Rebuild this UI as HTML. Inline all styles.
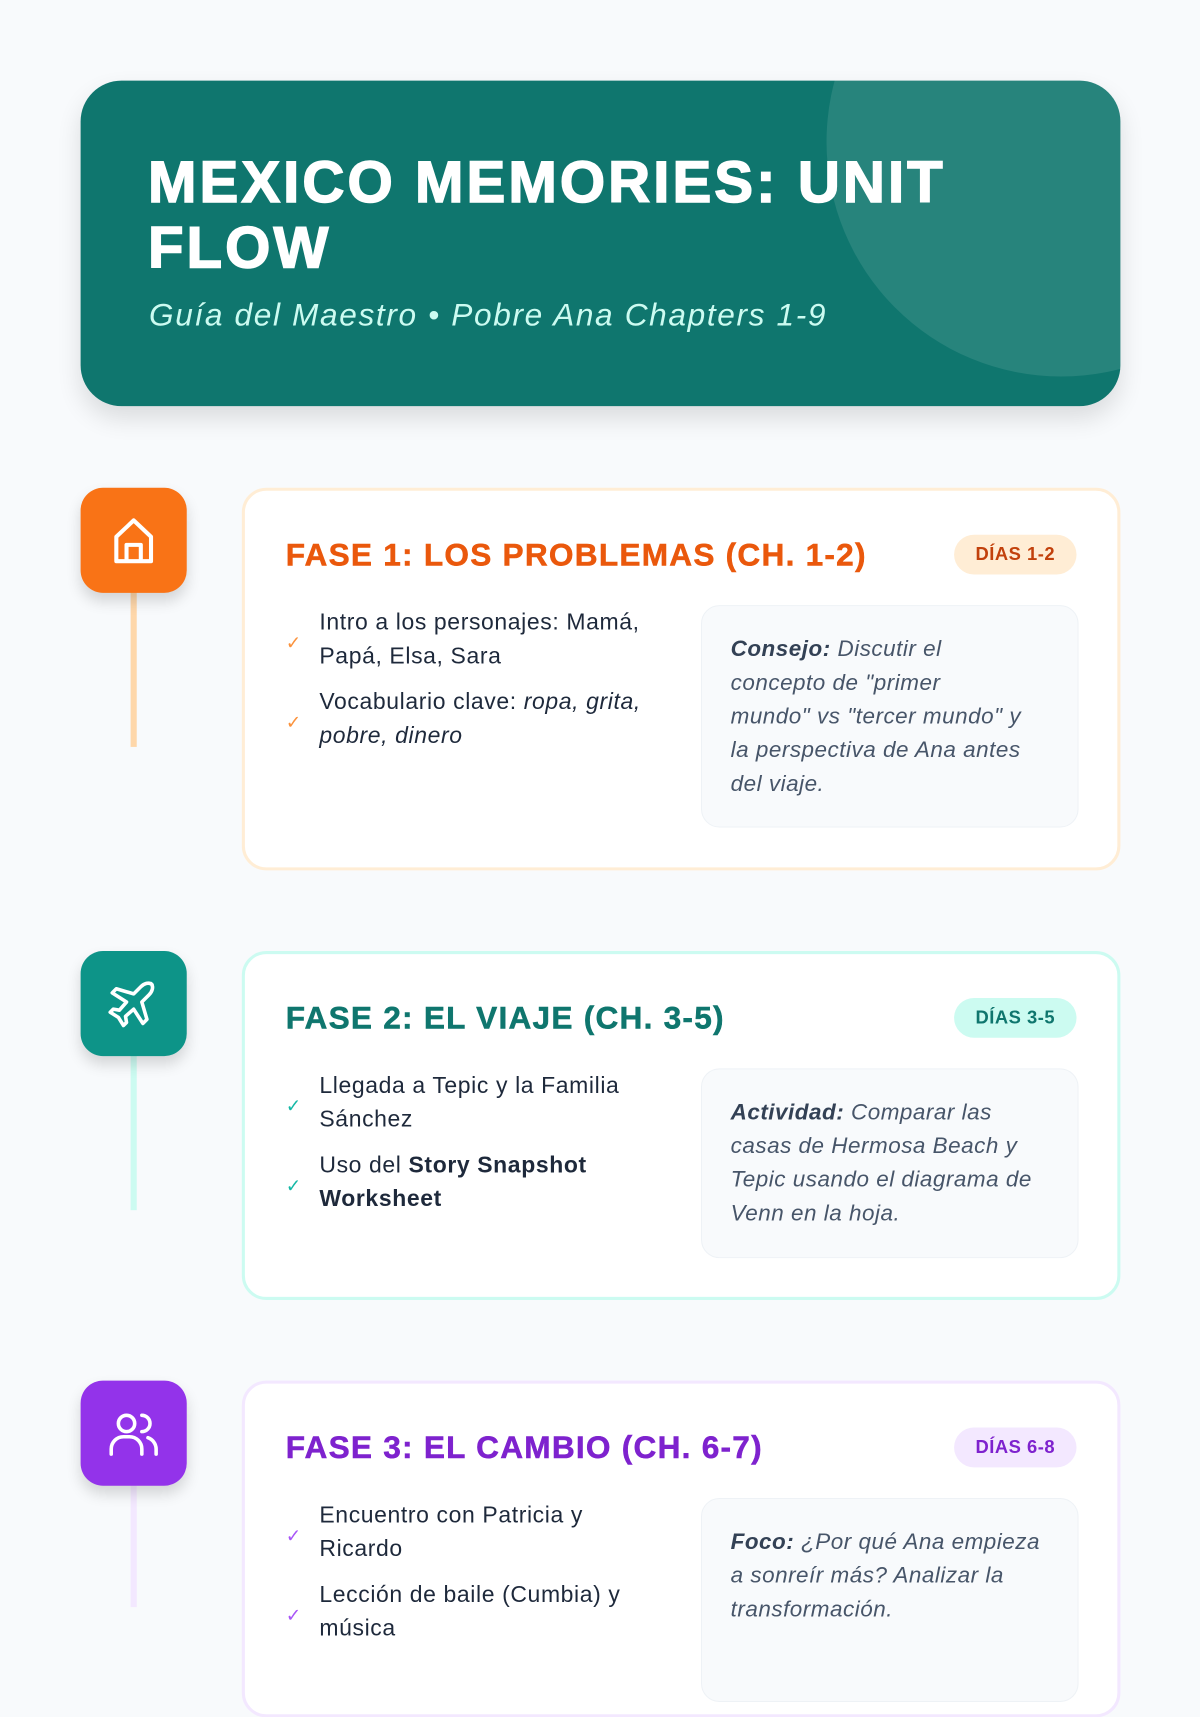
<!DOCTYPE html>
<html><head><meta charset="utf-8"><style>
*{margin:0;padding:0;box-sizing:border-box}
html,body{width:1200px;height:1600px;overflow:hidden;background:#f8fafc}
#w{position:absolute;left:0;top:0;width:1176px;height:1568px;transform:scale(1.0204);transform-origin:0 0;font-family:"Liberation Sans",sans-serif}
.hdr{position:absolute;left:79px;top:79px;width:1019px;height:319px;border-radius:40px;background:#0f766e;overflow:hidden;box-shadow:0 12px 24px rgba(0,0,0,.12)}
.hdr .c{position:absolute;left:731px;top:-170px;width:460px;height:460px;border-radius:50%;background:rgba(255,255,255,.1)}
.hdr h1{position:absolute;left:66px;top:68px;width:900px;color:#fff;font-size:57px;font-weight:900;line-height:64px;letter-spacing:3px;-webkit-text-stroke:1.5px #fff}
.hdr p{position:absolute;left:67px;top:212px;color:#ccfbf1;font-style:italic;font-size:31px;letter-spacing:1.6px}
.ic{position:absolute;left:79px;width:104px;height:103px;border-radius:22px;box-shadow:0 8px 14px rgba(0,0,0,.15)}
.ln{position:absolute;left:128px;width:6px}
.card{position:absolute;left:237px;width:861px;background:#fff;border:3px solid;border-radius:24px}
.card h2{position:absolute;left:40px;font-size:31px;font-weight:900;letter-spacing:1.2px;-webkit-text-stroke:0.5px currentColor}
.bd{position:absolute;right:40px;width:120px;height:39px;border-radius:20px;font-size:18px;font-weight:900;text-align:center;line-height:39px;letter-spacing:0.5px}
.li{position:absolute;left:40px;width:400px;font-size:22.5px;line-height:33px;color:#1e293b;padding-left:33px;letter-spacing:0.6px}
.li span.k{position:absolute;left:0;top:50%;margin-top:-12px;font-size:18px}
.tip{position:absolute;left:447px;width:370px;background:#f8fafc;border:1px solid #eef2f6;border-radius:18px;padding:0 28px;font-style:italic;font-size:22px;line-height:33px;color:#475569;letter-spacing:0.5px;white-space:nowrap}
.tip b{color:#334155}
</style></head><body><div id="w">
<div class="hdr"><div class="c"></div><h1>MEXICO MEMORIES: UNIT<br>FLOW</h1><p>Guía del Maestro • Pobre Ana Chapters 1-9</p></div>

<div class="ln" style="top:580px;height:152px;background:#fed7aa"></div>
<div class="ic" style="top:478px;background:#f97316"><svg width="104" height="103" viewBox="0 0 104 103"><path d="M35 72V48L52 32L69 48V72Z M45 72V56H59V72" fill="none" stroke="#fff" stroke-width="4" stroke-linejoin="round"/></svg></div>
<div class="card" style="top:478px;height:375px;border-color:#ffedd5">
<h2 style="top:45px;color:#ea580c">FASE 1: LOS PROBLEMAS (CH. 1-2)</h2>
<div class="bd" style="top:43px;background:#ffedd5;color:#c2410c">DÍAS 1-2</div>
<div class="li" style="top:112px"><span class="k" style="color:#fb923c">✓</span>Intro a los personajes: Mamá,<br>Papá, Elsa, Sara</div>
<div class="li" style="top:190px"><span class="k" style="color:#fb923c">✓</span>Vocabulario clave: <i>ropa, grita,<br>pobre, dinero</i></div>
<div class="tip" style="top:112px;height:218px;padding-top:25px"><b>Consejo:</b> Discutir el<br>concepto de "primer<br>mundo" vs "tercer mundo" y<br>la perspectiva de Ana antes<br>del viaje.</div>
</div>

<div class="ln" style="top:1034px;height:152px;background:#ccfbf1"></div>
<div class="ic" style="top:932px;background:#0d9488"><svg width="104" height="103" viewBox="0 0 104 103"><path d="M70 33c-3-3-8-1-11 2l-7 7-17-5-4 4 14 9-7 8-6-1-3 3 8 5 5 8 3-3-1-6 8-7 9 14 4-4-5-17 7-7c3-3 5-8 2-11z" fill="none" stroke="#fff" stroke-width="3.5" stroke-linejoin="round"/></svg></div>
<div class="card" style="top:932px;height:342px;border-color:#ccfbf1">
<h2 style="top:45px;color:#0f766e">FASE 2: EL VIAJE (CH. 3-5)</h2>
<div class="bd" style="top:43px;background:#ccfbf1;color:#0f766e">DÍAS 3-5</div>
<div class="li" style="top:112px"><span class="k" style="color:#14b8a6">✓</span>Llegada a Tepic y la Familia<br>Sánchez</div>
<div class="li" style="top:190px"><span class="k" style="color:#14b8a6">✓</span>Uso del <b>Story Snapshot<br>Worksheet</b></div>
<div class="tip" style="top:112px;height:186px;padding-top:25px"><b>Actividad:</b> Comparar las<br>casas de Hermosa Beach y<br>Tepic usando el diagrama de<br>Venn en la hoja.</div>
</div>

<div class="ln" style="top:1455px;height:120px;background:#f3e8ff"></div>
<div class="ic" style="top:1353px;background:#9333ea"><svg width="104" height="103" viewBox="0 0 104 103"><circle cx="45" cy="42" r="8" fill="none" stroke="#fff" stroke-width="3.5"/><path d="M30 72v-5a12 12 0 0 1 12-12h6a12 12 0 0 1 12 12v5" fill="none" stroke="#fff" stroke-width="3.5" stroke-linecap="round"/><path d="M60 34a8 8 0 0 1 0 16M66 56a12 12 0 0 1 8 11v5" fill="none" stroke="#fff" stroke-width="3.5" stroke-linecap="round"/></svg></div>
<div class="card" style="top:1353px;height:330px;border-color:#f3e8ff">
<h2 style="top:45px;color:#7e22ce">FASE 3: EL CAMBIO (CH. 6-7)</h2>
<div class="bd" style="top:43px;background:#f3e8ff;color:#7e22ce">DÍAS 6-8</div>
<div class="li" style="top:112px"><span class="k" style="color:#a855f7">✓</span>Encuentro con Patricia y<br>Ricardo</div>
<div class="li" style="top:190px"><span class="k" style="color:#a855f7">✓</span>Lección de baile (Cumbia) y<br>música</div>
<div class="tip" style="top:112px;height:200px;padding-top:25px"><b>Foco:</b> ¿Por qué Ana empieza<br>a sonreír más? Analizar la<br>transformación.</div>
</div>
</div></body></html>
